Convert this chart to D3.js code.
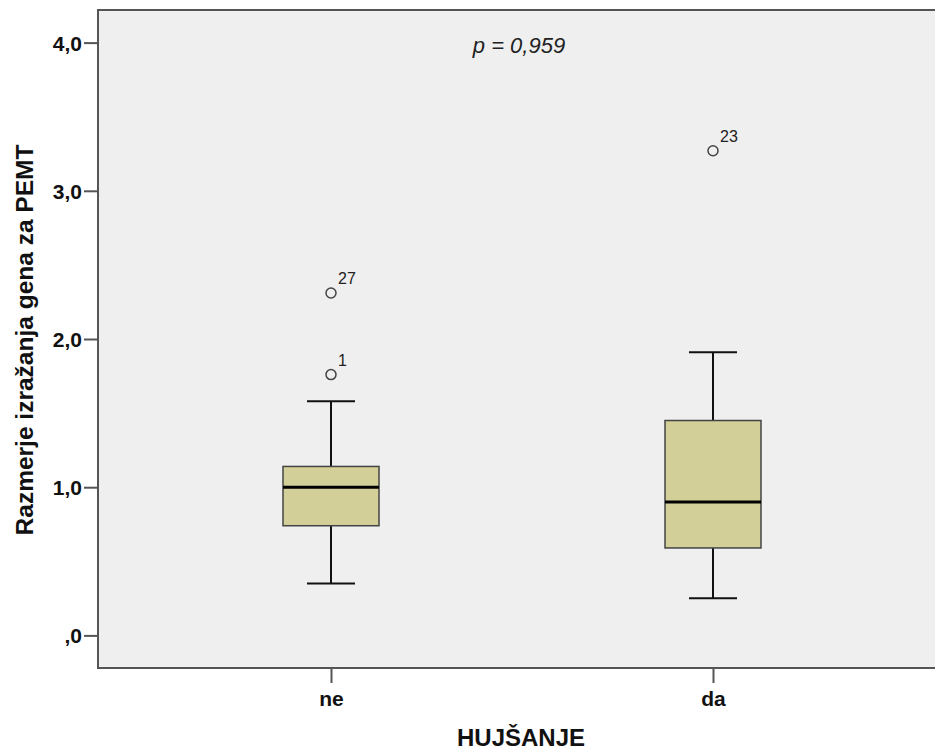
<!DOCTYPE html>
<html>
<head>
<meta charset="utf-8">
<script src="https://cdn.jsdelivr.net/npm/d3@7/dist/d3.min.js"></script>
<style>
  body { margin: 0; background: #fff; }
  text { font-family: "Liberation Sans", Arial, sans-serif; }
</style>
</head>
<body>
<div id="chart"></div>
<script>
// Chart size
var chart_width  = 935;
var chart_height = 751;

// Data
var groups      = ['ne', 'da'];
var q1          = [0.74, 0.59];
var medians     = [1.00, 0.90];
var q3          = [1.14, 1.45];
var whisk_low   = [0.35, 0.25];
var whisk_high  = [1.58, 1.91];
var outliers    = [
	{ group: 'ne', value: 2.31, label: '27' },
	{ group: 'ne', value: 1.76, label: '1' },
	{ group: 'da', value: 3.27, label: '23' }
];
var y_ticks     = [0, 1, 2, 3, 4];
var y_tick_text = [',0', '1,0', '2,0', '3,0', '4,0'];
var p_text      = 'p = 0,959';

var margin = { left: 98, top: 10, right: -5, bottom: 83 };
var plot_w = chart_width - margin.left - margin.right;
var plot_h = chart_height - margin.top - margin.bottom;

var svg = d3.select('#chart')
	.append('svg')
	.attr('width', chart_width)
	.attr('height', chart_height);

var g = svg.append('g')
	.attr('transform', 'translate(' + margin.left + ',' + margin.top + ')');

var y = d3.scaleLinear()
	.domain([-0.22, 4.22])
	.range([plot_h, 0]);

var x = d3.scalePoint()
	.domain(groups)
	.range([233, 615]);

// Plot background
g.append('rect')
	.attr('x', 0)
	.attr('y', 0)
	.attr('width', plot_w)
	.attr('height', plot_h)
	.attr('fill', '#efefef')
	.attr('stroke', '#555')
	.attr('stroke-width', 2);

// Axes
var y_axis = d3.axisLeft(y)
	.tickValues(y_ticks)
	.tickFormat(function(d, i){ return y_tick_text[i]; })
	.tickSize(14)
	.tickPadding(2);

var x_axis = d3.axisBottom(x)
	.tickSize(15)
	.tickPadding(9);

var gy = g.append('g').call(y_axis);
var gx = g.append('g').attr('transform', 'translate(0,' + plot_h + ')').call(x_axis);

[gy, gx].forEach(function(a){
	a.select('.domain').remove();
	a.selectAll('line').attr('stroke', '#555').attr('stroke-width', 2);
	a.selectAll('text')
		.attr('fill', '#111')
		.style('font-size', '21px')
		.style('font-weight', 'bold');
});
gy.selectAll('text').attr('dy', '0.36em');
gx.selectAll('text').attr('dy', '0.68em');

// Boxes
var half_box = 48;
var half_cap = 24;

var boxes = g.selectAll('.box')
	.data(groups)
	.enter()
	.append('g')
	.attr('class', 'box');

boxes.append('line')
	.attr('x1', function(d){ return x(d); })
	.attr('x2', function(d){ return x(d); })
	.attr('y1', function(d, i){ return y(whisk_high[i]); })
	.attr('y2', function(d, i){ return y(whisk_low[i]); })
	.attr('stroke', '#111')
	.attr('stroke-width', 2);

boxes.selectAll('.cap')
	.data(function(d, i){ return [{ g: d, v: whisk_high[i] }, { g: d, v: whisk_low[i] }]; })
	.enter()
	.append('line')
	.attr('class', 'cap')
	.attr('x1', function(d){ return x(d.g) - half_cap; })
	.attr('x2', function(d){ return x(d.g) + half_cap; })
	.attr('y1', function(d){ return y(d.v); })
	.attr('y2', function(d){ return y(d.v); })
	.attr('stroke', '#111')
	.attr('stroke-width', 2);

boxes.append('rect')
	.attr('x', function(d){ return x(d) - half_box; })
	.attr('width', half_box * 2)
	.attr('y', function(d, i){ return y(q3[i]); })
	.attr('height', function(d, i){ return y(q1[i]) - y(q3[i]); })
	.attr('fill', '#d3cf98')
	.attr('stroke', '#444')
	.attr('stroke-width', 1.5);

boxes.append('line')
	.attr('x1', function(d){ return x(d) - half_box; })
	.attr('x2', function(d){ return x(d) + half_box; })
	.attr('y1', function(d, i){ return y(medians[i]); })
	.attr('y2', function(d, i){ return y(medians[i]); })
	.attr('stroke', '#000')
	.attr('stroke-width', 3);

// Outliers
g.selectAll('.outlier')
	.data(outliers)
	.enter()
	.append('circle')
	.attr('class', 'outlier')
	.attr('cx', function(d){ return x(d.group); })
	.attr('cy', function(d){ return y(d.value); })
	.attr('r', 5)
	.attr('fill', 'none')
	.attr('stroke', '#444')
	.attr('stroke-width', 1.5);

g.selectAll('.outlier-label')
	.data(outliers)
	.enter()
	.append('text')
	.attr('class', 'outlier-label')
	.attr('x', function(d){ return x(d.group) + 7; })
	.attr('y', function(d){ return y(d.value) - 9; })
	.style('font-size', '16px')
	.attr('fill', '#222')
	.text(function(d){ return d.label; });

// p value
g.append('text')
	.attr('x', 421)
	.attr('y', 43)
	.attr('text-anchor', 'middle')
	.style('font-size', '22px')
	.style('font-style', 'italic')
	.attr('fill', '#222')
	.text(p_text);

// Axis titles
svg.append('text')
	.attr('x', 521)
	.attr('y', 746)
	.attr('text-anchor', 'middle')
	.style('font-size', '24px')
	.style('font-weight', 'bold')
	.attr('fill', '#111')
	.text('HUJŠANJE');

svg.append('text')
	.attr('transform', 'translate(33,340) rotate(-90)')
	.attr('text-anchor', 'middle')
	.style('font-size', '24.5px')
	.style('font-weight', 'bold')
	.attr('fill', '#111')
	.text('Razmerje izražanja gena za PEMT');
</script>
</body>
</html>
